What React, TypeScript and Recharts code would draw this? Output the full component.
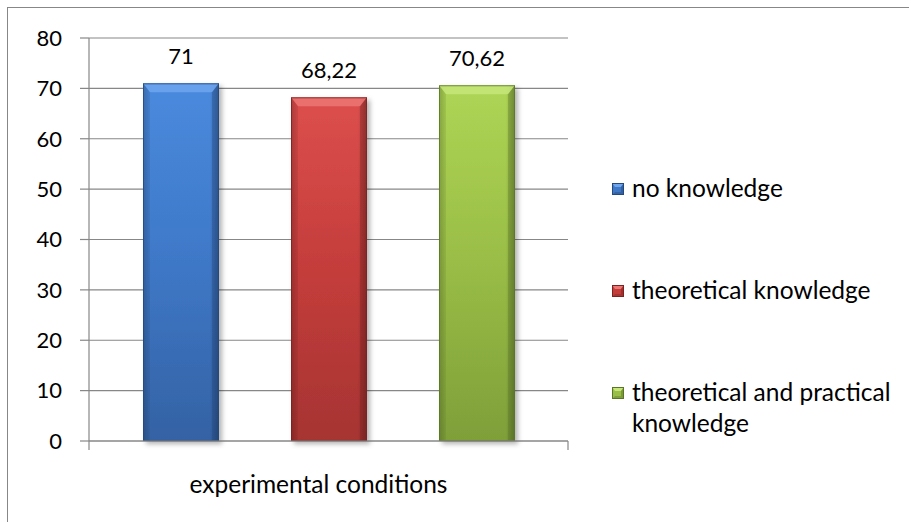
import React from 'react';
import { BarChart, Bar, XAxis, YAxis, CartesianGrid, Legend, LabelList } from 'recharts';

const categories = ['experimental conditions'];
const seriesKeys = ['s0', 's1', 's2'];
const seriesNames = ['no knowledge', 'theoretical knowledge', 'theoretical and practical knowledge'];
const noKnowledge = [71];
const theoreticalKnowledge = [68.22];
const theoreticalPracticalKnowledge = [70.62];
const yTicks = [0, 10, 20, 30, 40, 50, 60, 70, 80];

const data = categories.map((c, i) => ({
  name: c,
  s0: noKnowledge[i],
  s1: theoreticalKnowledge[i],
  s2: theoreticalPracticalKnowledge[i],
}));

const FONT = 'Lato, "Open Sans", sans-serif';
const GRID = '#878787';
const TEXT_SIZE = 24.5;
const NUM_SIZE = 22;
const X_TICK_MARGIN = 35;
const EDGE_TICK = 9;

const palette: Record<string, { top: string; mid: string; bottom: string; edge: string; light: string; base: string }> = {
  s0: { top: '#4a8ade', mid: '#3e78c7', bottom: '#3462a4', edge: '#25497e', light: '#6ea6ee', base: '#4079c8' },
  s1: { top: '#dc4f4d', mid: '#c43d3b', bottom: '#a63432', edge: '#7c2322', light: '#ec7674', base: '#c83c3a' },
  s2: { top: '#aed555', mid: '#99bd46', bottom: '#7e9f39', edge: '#5b7527', light: '#c6e67a', base: '#9cc048' },
};

const makeShape = (key: string) => (props: any) => {
  const { x, y, width, height } = props;
  if (!height || height <= 0) return <g />;
  const p = palette[key];
  const b = 9;
  const s = 7;
  return (
    <g filter="url(#barShadow)">
      <rect x={x} y={y} width={width} height={height} fill={`url(#grad-${key})`} />
      <rect x={x} y={y} width={width} height={height} fill="url(#edgeShade)" />
      <polygon
        points={`${x},${y} ${x + width},${y} ${x + width - s},${y + b} ${x + s},${y + b}`}
        fill={p.light}
        opacity={0.85}
      />
      <polygon
        points={`${x + width},${y} ${x + width},${y + height} ${x + width - s},${y + height} ${x + width - s},${y + b}`}
        fill={p.edge}
        opacity={0.35}
      />
      <polygon
        points={`${x},${y} ${x + s},${y + b} ${x + s},${y + height} ${x},${y + height}`}
        fill={p.edge}
        opacity={0.12}
      />
      <rect x={x + 0.5} y={y + 0.5} width={width - 1} height={height - 1} fill="none" stroke={p.edge} strokeWidth={1} opacity={0.8} />
    </g>
  );
};

const CategoryTick = (props: any) => {
  const { x, y, payload } = props;
  const half = payload && typeof payload.offset === 'number' ? payload.offset : 0;
  const axisY = y - X_TICK_MARGIN;
  return (
    <g>
      {half > 0 && (
        <>
          <line x1={x - half} x2={x - half} y1={axisY} y2={axisY + EDGE_TICK} stroke={GRID} strokeWidth={1.2} />
          <line x1={x + half} x2={x + half} y1={axisY} y2={axisY + EDGE_TICK} stroke={GRID} strokeWidth={1.2} />
        </>
      )}
      <text
        x={x - 10}
        y={y}
        dy="0.71em"
        textAnchor="middle"
        fill="#000"
        fontSize={TEXT_SIZE}
        fontFamily={FONT}
      >
        {payload.value}
      </text>
    </g>
  );
};

const renderLegend = (props: any) => {
  const payload = [...(props.payload || [])].sort(
    (a: any, b: any) => seriesKeys.indexOf(a.dataKey) - seriesKeys.indexOf(b.dataKey)
  );
  return (
    <div style={{ fontFamily: FONT, fontSize: TEXT_SIZE, lineHeight: '31px', color: '#000' }}>
      {payload.map((entry: any, i: number) => {
        const p = palette[entry.dataKey as string];
        return (
          <div
            key={i}
            style={{ display: 'flex', alignItems: 'flex-start', marginBottom: i < payload.length - 1 ? 71 : 0 }}
          >
            <svg width={12} height={12} style={{ marginTop: 11, marginRight: 8, flex: 'none' }}>
              <rect x={0} y={0} width={12} height={12} fill={p.mid} />
              <polygon points="0,0 12,0 9,4 3,4" fill={p.light} />
              <polygon points="12,0 12,12 9,12 9,4" fill={p.edge} opacity={0.5} />
              <polygon points="0,12 12,12 9,9 3,9" fill={p.bottom} />
              <rect x={0.5} y={0.5} width={11} height={11} fill="none" stroke={p.edge} strokeWidth={1} />
            </svg>
            <span style={{ width: 285 }}>{entry.value}</span>
          </div>
        );
      })}
    </div>
  );
};

export default function App() {
  return (
    <div
      style={{
        position: 'fixed',
        left: 7,
        top: 7,
        width: 901,
        height: 514,
        borderLeft: `1px solid ${GRID}`,
        borderTop: `1px solid ${GRID}`,
        background: '#fff',
        overflow: 'hidden',
      }}
    >
      <BarChart
        width={901}
        height={514}
        data={data}
        margin={{ top: 30, right: 341, bottom: 21, left: 0 }}
        barCategoryGap={54}
        barGap={72}
      >
        <defs>
          {seriesKeys.map((k) => (
            <linearGradient key={k} id={`grad-${k}`} x1="0" y1="0" x2="0" y2="1">
              <stop offset="0%" stopColor={palette[k].top} />
              <stop offset="50%" stopColor={palette[k].mid} />
              <stop offset="100%" stopColor={palette[k].bottom} />
            </linearGradient>
          ))}
          <linearGradient id="edgeShade" x1="0" y1="0" x2="1" y2="0">
            <stop offset="0%" stopColor="#000" stopOpacity={0.18} />
            <stop offset="10%" stopColor="#000" stopOpacity={0} />
            <stop offset="88%" stopColor="#000" stopOpacity={0} />
            <stop offset="100%" stopColor="#000" stopOpacity={0.3} />
          </linearGradient>
          <filter id="barShadow" x="-20%" y="-10%" width="150%" height="130%">
            <feDropShadow dx={3} dy={3} stdDeviation={2.5} floodColor="#000" floodOpacity={0.3} />
          </filter>
        </defs>
        <CartesianGrid vertical={false} stroke={GRID} strokeWidth={1.2} />
        <XAxis
          dataKey="name"
          height={60}
          tickLine={false}
          tickSize={0}
          tickMargin={X_TICK_MARGIN}
          axisLine={{ stroke: GRID, strokeWidth: 1.2 }}
          tick={<CategoryTick />}
        />
        <YAxis
          width={81}
          domain={[0, 80]}
          ticks={yTicks}
          interval={0}
          tickSize={9}
          tickMargin={18}
          tickLine={{ stroke: GRID, strokeWidth: 1.2 }}
          axisLine={{ stroke: GRID, strokeWidth: 1.2 }}
          tick={{ fill: '#000', fontSize: NUM_SIZE, fontFamily: FONT }}
        />
        <Legend
          layout="vertical"
          align="center"
          verticalAlign="middle"
          content={renderLegend}
          wrapperStyle={{ left: 604, top: 164, width: 300 }}
        />
        {seriesKeys.map((k, i) => (
          <Bar
            key={k}
            dataKey={k}
            name={seriesNames[i]}
            fill={palette[k].base}
            shape={makeShape(k)}
            isAnimationActive={false}
          >
            <LabelList
              dataKey={k}
              position="top"
              offset={19}
              fill="#000"
              fontSize={NUM_SIZE}
              fontFamily={FONT}
              formatter={(v: any) => String(v).replace('.', ',')}
            />
          </Bar>
        ))}
      </BarChart>
    </div>
  );
}
